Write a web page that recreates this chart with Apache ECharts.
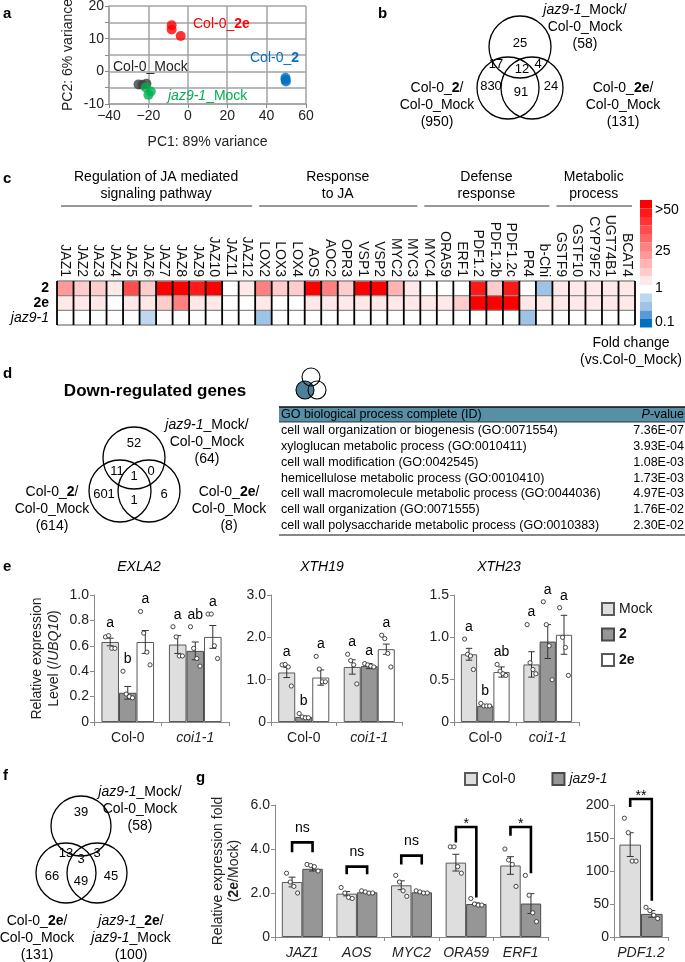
<!DOCTYPE html>
<html><head><meta charset="utf-8">
<script src="https://cdn.jsdelivr.net/npm/echarts@6/dist/echarts.min.js"></script>
<style>html,body{margin:0;padding:0;background:#fff}#c{width:685px;height:962px}</style>
</head><body><div id="c"></div><script>
const FONT = '"Liberation Sans", Arial, sans-serif';

// ---------- panel a : PCA ----------
const pcaMock = [[-25,-4.0],[-23,-4.1],[-21,-3.8]];
const pcaJaz = [[-21.3,-4.9],[-18.8,-6.2],[-20.0,-7.2]];
const pcaTwo = [[49.6,-2.0],[49.6,-2.6],[49.8,-3.1]];
const pcaTwoE = [[-8.2,14.1],[-8.2,12.8],[-3.6,10.8]];

// ---------- panel b : Venn (up-regulated) ----------
const vennBCounts = [25,17,12,4,830,91,24];
const vennBSets = ['{i|jaz9-1}_Mock/\nCol-0_Mock\n(58)','Col-0_{b|2}/\nCol-0_Mock\n(950)','Col-0_{b|2e}/\nCol-0_Mock\n(131)'];

// ---------- panel c : heatmap ----------
const heatGenes = ['JAZ1','JAZ2','JAZ3','JAZ4','JAZ5','JAZ6','JAZ7','JAZ8','JAZ9','JAZ10','JAZ11','JAZ12','LOX2','LOX3','LOX4','AOS','AOC2','OPR3','VSP1','VSP2','MYC2','MYC3','MYC4','ORA59','ERF1','PDF1.2','PDF1.2b','PDF1.2c','PR4','b-Chi','GSTF9','GSTF10','CYP79F2','UGT74B1','BCAT4'];
const heatRows = ['2','2e','jaz9-1'];
const fcTwo  = [17,7,6,2,32,6,55,55,44,55,1,2,22,6,8,55,20,7,55,55,14,2,1,1,1,42,6,44,1,0.55,4,4,2,2,2];
const fcTwoE = [3,2,2,1,2,2,6,22,3,2,1,1,2,1,1,2,2,2,2,2,3,2,2,4,8,55,55,55,2,2,2,2,2,2,2];
const fcJaz  = [1,1,1,1,1,0.8,1,1,1,1,1,1,0.6,1,1,1,1,1,1,1,1,1,1,1,1,1,1,1,0.5,1,1,1,1,1,1];
const heatGroupNames = ['Regulation of JA mediated\nsignaling pathway','Response\nto JA','Defense\nresponse','Metabolic\nprocess'];
const heatGroupSizes = [12,10,8,5];
const heatLegendLabels = ['>50','25','1','0.1'];

// ---------- panel d ----------
const vennDCounts = [52,11,1,0,601,1,6];
const vennDSets = ['{i|jaz9-1}_Mock/\nCol-0_Mock\n(64)','Col-0_{b|2}/\nCol-0_Mock\n(614)','Col-0_{b|2e}/\nCol-0_Mock\n(8)'];
const goTerms = ['cell wall organization or biogenesis (GO:0071554)','xyloglucan metabolic process (GO:0010411)','cell wall modification (GO:0042545)','hemicellulose metabolic process (GO:0010410)','cell wall macromolecule metabolic process (GO:0044036)','cell wall organization (GO:0071555)','cell wall polysaccharide metabolic process (GO:0010383)'];
const goPvals = ['7.36E-07','3.93E-04','1.08E-03','1.73E-03','4.97E-03','1.76E-02','2.30E-02'];

// ---------- panel e ----------
const eCats = ['Col-0','coi1-1'];
const eTreat = ['Mock','2','2e'];
const eGeneNames = ['EXLA2','XTH19','XTH23'];
const exla2Mean = [[0.63,0.61],[0.23,0.56],[0.63,0.67]];
const exla2Err  = [[0.03,0.07],[0.05,0.07],[0.09,0.09]];
const exla2Dots = [[[0.67,0.68,0.58,0.58],[0.75,0.67,0.52,0.52]],[[0.40,0.22,0.20,0.19],[0.75,0.58,0.50,0.44]],[[0.87,0.70,0.55,0.45],[0.85,0.85,0.60,0.50]]];
const exla2Letters = [['a','a'],['b','ab'],['a','a']];
const xth19Mean = [[1.17,1.30],[0.12,1.32],[1.05,1.72]];
const xth19Err  = [[0.12,0.17],[0.02,0.06],[0.18,0.12]];
const xth19Dots = [[[1.35,1.36,1.30,0.85],[1.60,1.45,1.35,0.90]],[[0.20,0.12,0.10,0.10],[1.38,1.35,1.32,1.30]],[[1.55,1.25,0.95,0.95],[2.05,1.97,1.62,1.30]]];
const xth19Letters = [['a','a'],['b','a'],['a','a']];
const xth23Mean = [[0.80,0.68],[0.19,0.95],[0.59,1.03]];
const xth23Err  = [[0.07,0.15],[0.01,0.20],[0.06,0.23]];
const xth23Dots = [[[0.98,0.80,0.78,0.62],[1.15,0.70,0.62,0.57]],[[0.22,0.19,0.19,0.19],[1.42,1.15,0.90,0.50]],[[0.68,0.60,0.57,0.55],[1.35,1.00,0.88,0.55]]];
const xth23Letters = [['a','a'],['b','a'],['ab','a']];

// ---------- panel f ----------
const vennFCounts = [39,13,3,3,66,49,45];
const vennFSets = ['{i|jaz9-1}_Mock/\nCol-0_Mock\n(58)','Col-0_{b|2e}/\nCol-0_Mock\n(131)','{i|jaz9-1}_{b|2e}/\n{i|jaz9-1}_Mock\n(100)'];

// ---------- panel g ----------
const gGenes = ['JAZ1','AOS','MYC2','ORA59','ERF1'];
const gColMean = [2.50,1.97,2.35,3.38,3.25];
const gColErr  = [0.22,0.10,0.20,0.38,0.40];
const gJazMean = [3.10,2.03,2.03,1.50,1.52];
const gJazErr  = [0.10,0.03,0.04,0.05,0.45];
const gColDots = [[2.9,2.5,2.3,2.0],[2.25,2.0,1.8,1.75],[2.8,2.5,2.1,1.85],[4.1,4.1,3.2,2.9],[4.0,3.5,3.3,2.3]];
const gJazDots = [[3.3,3.25,3.2,3.0],[2.1,2.05,2.0,2.0],[2.1,2.05,2.0,2.0],[1.75,1.5,1.45,1.45],[2.8,1.9,1.1,0.7]];
const gSig = ['ns','ns','ns','*','*'];
const gBracketTop = [4.3,3.2,3.7,5.0,5.0];
const gBracketLeft = [3.85,2.85,3.3,4.3,4.6];
const gBracketRight = [3.85,2.85,3.3,1.8,2.9];
const pdfGene = ['PDF1.2'];
const pdfColMean = [140], pdfColErr = [18], pdfJazMean = [35], pdfJazErr = [5];
const pdfColDots = [[180,158,115,115]], pdfJazDots = [[45,40,33,28]];
const pdfSig = ['**'], pdfBracketTop = [209], pdfBracketLeft = [197], pdfBracketRight = [55];

// ================= build =================
const chart = echarts.init(document.getElementById('c'), null, {renderer:'canvas', width:685, height:962});
const grids = [], xAxes = [], yAxes = [], series = [], G = [];

function rich(size, color, lh) {
  const base = {fontSize:size, fontFamily:FONT, fill:color||'#000'};
  if (lh) base.lineHeight = lh;
  return {
    b: Object.assign({}, base, {fontWeight:'bold'}),
    i: Object.assign({}, base, {fontStyle:'italic'}),
    n: Object.assign({}, base)
  };
}
function T(x, y, text, o) {
  o = o || {};
  const size = o.size || 14;
  const st = {text:String(text), fill:o.color||'#000', fontSize:size, fontFamily:FONT,
    fontWeight:o.bold?'bold':'normal', fontStyle:o.italic?'italic':'normal',
    align:o.align||'center', verticalAlign:o.va||'middle'};
  if (o.lh) st.lineHeight = o.lh;
  st.rich = rich(size, o.color||'#000', o.lh);
  return {type:'text', x:x, y:y, rotation:o.rot||0, style:st, z:50, silent:true};
}
function C(cx, cy, r, fill, lw) {
  return {type:'circle', shape:{cx:cx, cy:cy, r:r}, style:{fill:fill||'none', stroke:'#000', lineWidth:lw||1.3}, z:40, silent:true};
}
function L(x1, y1, x2, y2, w, c) {
  return {type:'line', shape:{x1:x1,y1:y1,x2:x2,y2:y2}, style:{stroke:c||'#000', lineWidth:w||1}, z:40, silent:true};
}
function venn(top, left, right, r, counts, countPos, sets, setPos) {
  G.push(C(top[0],top[1],r), C(left[0],left[1],r), C(right[0],right[1],r));
  counts.forEach((c,i) => G.push(T(countPos[i][0], countPos[i][1], c, {size:13})));
  sets.forEach((s,i) => G.push(T(setPos[i][0], setPos[i][1], s, {size:14, lh:17})));
}
const axCol = '#8a8a8a';
function valAxis(gi, min, max, interval, fmt, extra) {
  return Object.assign({type:'value', gridIndex:gi, min:min, max:max, interval:interval,
    axisLine:{show:true, onZero:false, lineStyle:{color:axCol, width:1}},
    axisTick:{show:true, length:4, lineStyle:{color:axCol}},
    splitLine:{show:false},
    axisLabel:{fontSize:14, color:'#222', fontFamily:FONT, margin:5, formatter:fmt}}, extra||{});
}
function catAxis(gi, data, fmt, extra) {
  return Object.assign({type:'category', gridIndex:gi, data:data,
    axisLine:{show:true, onZero:false, lineStyle:{color:axCol, width:1}},
    axisTick:{show:true, length:4, alignWithLabel:false, lineStyle:{color:axCol}},
    splitLine:{show:false},
    axisLabel:{fontSize:14, color:'#222', fontFamily:FONT, margin:9, interval:0, formatter:fmt,
      rich:{i:{fontStyle:'italic', fontSize:14, fontFamily:FONT, color:'#222'}}}}, extra||{});
}
function barExtras(nBars, gap, letters) {
  return function(params, api) {
    const cat = api.value(0), bi = api.value(1), mean = api.value(2), err = api.value(3);
    const W = api.size([1,0])[0];
    const base = api.coord([cat, 0]);
    const bw = W*(1-gap)/nBars;
    const cx = base[0] - W*(1-gap)/2 + (bi+0.5)*bw;
    const yHi = api.coord([cat, mean+err])[1], yLo = api.coord([cat, mean-err])[1];
    const ch = [];
    const cap = Math.min(3.5, bw*0.2);
    ch.push({type:'line', shape:{x1:cx,y1:yHi,x2:cx,y2:yLo}, style:{stroke:'#333', lineWidth:1}});
    ch.push({type:'line', shape:{x1:cx-cap,y1:yHi,x2:cx+cap,y2:yHi}, style:{stroke:'#333', lineWidth:1}});
    ch.push({type:'line', shape:{x1:cx-cap,y1:yLo,x2:cx+cap,y2:yLo}, style:{stroke:'#333', lineWidth:1}});
    let top = yHi;
    const jit = [-0.27,-0.09,0.09,0.27];
    for (let k = 0; k < 4; k++) {
      const v = api.value(4+k);
      if (v === undefined || isNaN(v)) continue;
      const p = api.coord([cat, v]);
      ch.push({type:'circle', shape:{cx:cx+jit[k]*bw, cy:p[1], r:2.1}, style:{fill:'#fff', stroke:'#333', lineWidth:0.9}});
      top = Math.min(top, p[1]-2);
    }
    const lt = letters ? letters[params.dataIndex] : null;
    if (lt) ch.push({type:'text', x:cx, y:top-3, style:{text:lt, fontSize:14, fontFamily:FONT, fill:'#000', align:'center', verticalAlign:'bottom'}});
    return {type:'group', children:ch};
  };
}
function bracketRender(nBars, gap, labels) {
  return function(params, api) {
    const cat = api.value(0), top = api.value(1), l = api.value(2), r = api.value(3);
    const W = api.size([1,0])[0];
    const base = api.coord([cat, 0]);
    const bw = W*(1-gap)/nBars;
    const xL = base[0] - W*(1-gap)/2 + 0.5*bw, xR = xL + bw;
    const yT = api.coord([cat, top])[1], yL = api.coord([cat, l])[1], yR = api.coord([cat, r])[1];
    const lab = labels[params.dataIndex];
    const off = lab.charAt(0) === '*' ? 4 : -7;
    return {type:'group', children:[
      {type:'polyline', shape:{points:[[xL,yL],[xL,yT],[xR,yT],[xR,yR]]}, style:{stroke:'#000', lineWidth:2.6, fill:'none'}},
      {type:'text', x:(xL+xR)/2, y:yT+off, style:{text:lab, fontSize:14, fontFamily:FONT, fill:'#000', align:'center', verticalAlign:'bottom'}}
    ]};
  };
}
const mono = (v) => v === 0 ? '0' : v.toFixed(1);

// ---------- panel letters ----------
[['a',3,14],['b',378,14],['c',3,179],['d',3,374],['e',3,567],['f',3,776],['g',196,778]].forEach(p =>
  G.push(T(p[1], p[2], p[0], {size:15, bold:true, align:'left'})));

// ---------- a ----------
grids.push({left:109, top:6, width:197, height:98, outerBoundsMode:'none'});
xAxes.push(valAxis(0, -40, 60, 20, v => v < 0 ? '\u2212' + (-v) : String(v), {
  axisLine:{show:true, onZero:false, lineStyle:{color:'#a3a3a3', width:1.5}},
  splitLine:{show:true, lineStyle:{color:'#a3a3a3', width:1.5}},
  name:'PC1: 89% variance', nameLocation:'middle', nameGap:31,
  nameTextStyle:{fontSize:14, color:'#222', fontFamily:FONT}}));
yAxes.push(valAxis(0, -10, 20, 5, v => v % 10 === 0 ? (v < 0 ? '-' + (-v) : String(v)) : '', {
  axisLine:{show:true, onZero:false, lineStyle:{color:'#a3a3a3', width:1.5}},
  splitLine:{show:true, lineStyle:{color:'#a3a3a3', width:1.5}},
  name:'PC2: 6% variance', nameLocation:'middle', nameRotate:90, nameGap:34,
  nameTextStyle:{fontSize:14, color:'#222', fontFamily:FONT}}));
[[pcaMock,'#404040'],[pcaJaz,'#00b050'],[pcaTwo,'#0070c0'],[pcaTwoE,'#ff0000']].forEach(s =>
  series.push({type:'scatter', xAxisIndex:0, yAxisIndex:0, data:s[0], symbolSize:10, itemStyle:{color:s[1]}, z:5}));
G.push(T(193, 24, 'Col-0_{b|2e}', {color:'#ff0000', align:'left'}));
G.push(T(250, 58, 'Col-0_{b|2}', {color:'#0070c0', align:'left'}));
G.push(T(113, 67, 'Col-0_Mock', {color:'#222', align:'left'}));
G.push(T(168, 96, '{i|jaz9-1}_Mock', {color:'#00b050', align:'left'}));

// ---------- b ----------
venn([520,47],[508,88],[532,88],31, vennBCounts,
  [[520,43],[496,64],[522,69],[538,64],[491,86],[521,92],[551,86]],
  vennBSets, [[585,27],[437,105],[623,105]]);

// ---------- c heatmap ----------
const HG = grids.length;
const HL = 57, HT = 281, HW = 578, HH = 44;
grids.push({left:HL, top:HT, width:HW, height:HH, outerBoundsMode:'none'});
xAxes.push({type:'category', gridIndex:HG, data:heatGenes, position:'top',
  axisLine:{show:false}, axisTick:{show:false}, splitLine:{show:false},
  axisLabel:{rotate:90, fontSize:14, margin:4, interval:0, color:'#111', fontFamily:FONT}});
yAxes.push({type:'category', gridIndex:HG, data:heatRows, inverse:true,
  axisLine:{show:false}, axisTick:{show:false}, splitLine:{show:false},
  axisLabel:{margin:8, fontSize:14, interval:0, fontFamily:FONT, color:'#000',
    formatter: v => v === 'jaz9-1' ? '{i|' + v + '}' : '{b|' + v + '}',
    rich:{i:{fontStyle:'italic', fontSize:14, fontFamily:FONT, color:'#000'}, b:{fontWeight:'bold', fontSize:14, fontFamily:FONT, color:'#000'}}}});
const heatData = [];
[fcTwo, fcTwoE, fcJaz].forEach((row, r) => row.forEach((v, g) => heatData.push([g, r, v])));
const heatSeriesIndex = series.length;
series.push({type:'heatmap', xAxisIndex:HG, yAxisIndex:HG, data:heatData,
  itemStyle:{borderWidth:0}, emphasis:{disabled:true}});
{
  const cw = HW / heatGenes.length, rh = HH / heatRows.length;
  for (let r = 0; r <= heatRows.length; r++) G.push(L(HL, HT + r*rh, HL + HW, HT + r*rh, 1.3, '#8c8c8c'));
  for (let c = 0; c <= heatGenes.length; c++) G.push(L(HL + c*cw, HT, HL + c*cw, HT + HH, 1.8, '#000'));
  let start = 0;
  heatGroupSizes.forEach((n, i) => {
    const x1 = HL + start*cw, x2 = HL + (start+n)*cw;
    G.push(L(x1+4, 206, x2-3, 206, 1, '#333'));
    G.push(T((x1+x2)/2, 186, heatGroupNames[i], {lh:17}));
    start += n;
  });
}
const heatPieces = [
  {gte:50, color:'#ff0000'}, {gte:40, lt:50, color:'#ff1a1a'}, {gte:35, lt:40, color:'#ff3333'},
  {gte:30, lt:35, color:'#ff4d4d'}, {gte:25, lt:30, color:'#ff6666'}, {gte:20, lt:25, color:'#ff8080'},
  {gte:15, lt:20, color:'#ff9999'}, {gte:10, lt:15, color:'#ffb3b3'}, {gte:5, lt:10, color:'#ffcccc'},
  {gte:1.1, lt:5, color:'#ffe8e8'}, {gte:0.9, lt:1.1, color:'#ffffff'}, {gte:0.7, lt:0.9, color:'#bdd7ee'},
  {gte:0.5, lt:0.7, color:'#9dc3e6'}, {gte:0.3, lt:0.5, color:'#5b9bd5'}, {lt:0.3, color:'#0070c0'}];
[[210,0],[251,1],[288,2],[322,3]].forEach(p => G.push(T(655, p[0], heatLegendLabels[p[1]], {align:'left'})));
G.push(T(631, 343, 'Fold change', {}));
G.push(T(631, 360, '(vs.Col-0_Mock)', {}));

// ---------- d ----------
G.push(T(155, 391, 'Down-regulated genes', {size:17, bold:true}));
G.push(C(305, 390, 9, '#4c8299', 1.1));
G.push(C(311, 377, 9, 'none', 1.1));
G.push(C(317, 390, 9, 'none', 1.1));
venn([134,458],[120,491],[149,491],31, vennDCounts,
  [[134,443],[117,471],[134,476],[151,471],[104,494],[134,500],[164,494]],
  vennDSets, [[207,442],[52,509],[229,509]]);
G.push({type:'rect', shape:{x:279, y:407, width:406, height:15}, style:{fill:'#568fa6'}, z:30, silent:true});
G.push(L(279, 407, 685, 407, 1.6, '#111'));
G.push(L(279, 422, 685, 422, 0.8, '#111'));
G.push(T(281, 415, 'GO biological process complete (ID)', {size:12.5, align:'left'}));
G.push(T(684, 415, '{i|P}-value', {size:12.5, align:'right'}));
goTerms.forEach((t, i) => {
  G.push(T(281, 431 + i*15.7, t, {size:12.5, align:'left'}));
  G.push(T(684, 431 + i*15.7, goPvals[i], {size:12.5, align:'right'}));
});
G.push(L(279, 535, 685, 535, 1, '#111'));

// ---------- e ----------
const eSets = [
  {mean:exla2Mean, err:exla2Err, dots:exla2Dots, let:exla2Letters, left:94, width:135, max:1.0, int:0.2},
  {mean:xth19Mean, err:xth19Err, dots:xth19Dots, let:xth19Letters, left:271, width:131, max:3.0, int:1.0},
  {mean:xth23Mean, err:xth23Err, dots:xth23Dots, let:xth23Letters, left:454, width:125, max:1.5, int:0.5}];
const eColors = [['#dedede','#5a5a5a'],['#969696','#4a4a4a'],['#ffffff','#5a5a5a']];
const eGap = 0.22;
const eTitleX = [139, 322, 499];
eSets.forEach((s, k) => {
  const gi = grids.length;
  grids.push({left:s.left, top:595, width:s.width, height:127, outerBoundsMode:'none'});
  xAxes.push(catAxis(gi, eCats, v => v === 'coi1-1' ? '{i|coi1-1}' : v));
  const extra = k === 0 ? {name:'{n|Relative expression}\n{n|Level (/}{i|UBQ10}{n|)}', nameLocation:'middle', nameRotate:90, nameGap:31,
      nameTextStyle:{fontSize:14, fontFamily:FONT, color:'#222', lineHeight:17,
        rich:{n:{fontSize:14, fontFamily:FONT, color:'#222', lineHeight:17}, i:{fontSize:14, fontFamily:FONT, color:'#222', fontStyle:'italic', lineHeight:17}}}} : {};
  yAxes.push(valAxis(gi, 0, s.max, s.int, mono, extra));
  eTreat.forEach((t, ti) => series.push({type:'bar', name:t, xAxisIndex:gi, yAxisIndex:gi, data:s.mean[ti],
    barGap:'0%', barCategoryGap:(eGap*100)+'%', itemStyle:{color:eColors[ti][0], borderColor:eColors[ti][1], borderWidth:1}, z:2}));
  const cd = [], lets = [];
  eTreat.forEach((t, ti) => eCats.forEach((c, ci) => {
    cd.push([ci, ti, s.mean[ti][ci], s.err[ti][ci]].concat(s.dots[ti][ci]));
    lets.push(s.let[ti][ci]);
  }));
  series.push({type:'custom', xAxisIndex:gi, yAxisIndex:gi, data:cd, renderItem:barExtras(3, eGap, lets), encode:{x:0, y:2}, clip:false, z:4});
  G.push(T(eTitleX[k], 567, eGeneNames[k], {italic:true}));
});

// ---------- f ----------
venn([81,826],[66,873],[97,873],30, vennFCounts,
  [[81,812],[66,853],[81,859],[97,853],[52,876],[81,881],[111,876]],
  vennFSets, [[140,809],[37,938],[131,938]]);

// ---------- g ----------
const gColors = [['#dedede','#5a5a5a'],['#969696','#4a4a4a']];
const gGi = grids.length;
grids.push({left:275, top:805, width:273, height:132, outerBoundsMode:'none'});
xAxes.push(catAxis(gGi, gGenes, v => '{i|' + v + '}'));
yAxes.push(valAxis(gGi, 0, 6, 2, mono, {name:'{n|Relative expression fold}\n{n|(}{b|2e}{n|/Mock)}', nameLocation:'middle', nameRotate:90, nameGap:33,
  nameTextStyle:{fontSize:14, fontFamily:FONT, color:'#222', lineHeight:16,
    rich:{n:{fontSize:14, fontFamily:FONT, color:'#222', lineHeight:16}, b:{fontSize:14, fontFamily:FONT, color:'#222', fontWeight:'bold', lineHeight:16}}}}));
const gGap = 0.25;
[['Col-0', gColMean], ['jaz9-1', gJazMean]].forEach((s, i) => series.push({type:'bar', name:s[0], xAxisIndex:gGi, yAxisIndex:gGi, data:s[1],
  barGap:'0%', barCategoryGap:(gGap*100)+'%', itemStyle:{color:gColors[i][0], borderColor:gColors[i][1], borderWidth:1}, z:2}));
{
  const cd = [];
  gGenes.forEach((g, ci) => cd.push([ci, 0, gColMean[ci], gColErr[ci]].concat(gColDots[ci])));
  gGenes.forEach((g, ci) => cd.push([ci, 1, gJazMean[ci], gJazErr[ci]].concat(gJazDots[ci])));
  series.push({type:'custom', xAxisIndex:gGi, yAxisIndex:gGi, data:cd, renderItem:barExtras(2, gGap, null), encode:{x:0, y:2}, clip:false, z:4});
  const bd = gGenes.map((g, ci) => [ci, gBracketTop[ci], gBracketLeft[ci], gBracketRight[ci]]);
  series.push({type:'custom', xAxisIndex:gGi, yAxisIndex:gGi, data:bd, renderItem:bracketRender(2, gGap, gSig), encode:{x:0, y:1}, clip:false, z:5});
}
const pGi = grids.length;
grids.push({left:614, top:805, width:54, height:132, outerBoundsMode:'none'});
xAxes.push(catAxis(pGi, pdfGene, v => '{i|' + v + '}'));
yAxes.push(valAxis(pGi, 0, 200, 50, v => String(v)));
const pGap = 0.2;
[['Col-0', pdfColMean], ['jaz9-1', pdfJazMean]].forEach((s, i) => series.push({type:'bar', name:s[0], xAxisIndex:pGi, yAxisIndex:pGi, data:s[1],
  barGap:'0%', barCategoryGap:(pGap*100)+'%', itemStyle:{color:gColors[i][0], borderColor:gColors[i][1], borderWidth:1}, z:2}));
{
  const cd = [[0, 0, pdfColMean[0], pdfColErr[0]].concat(pdfColDots[0]), [0, 1, pdfJazMean[0], pdfJazErr[0]].concat(pdfJazDots[0])];
  series.push({type:'custom', xAxisIndex:pGi, yAxisIndex:pGi, data:cd, renderItem:barExtras(2, pGap, null), encode:{x:0, y:2}, clip:false, z:4});
  series.push({type:'custom', xAxisIndex:pGi, yAxisIndex:pGi, data:[[0, pdfBracketTop[0], pdfBracketLeft[0], pdfBracketRight[0]]], renderItem:bracketRender(2, pGap, pdfSig), encode:{x:0, y:1}, clip:false, z:5});
}

const option = {
  animation:false, backgroundColor:'#fff', textStyle:{fontFamily:FONT},
  grid:grids, xAxis:xAxes, yAxis:yAxes, series:series,
  visualMap:[{type:'piecewise', seriesIndex:heatSeriesIndex, pieces:heatPieces, orient:'vertical', left:640, top:200,
    itemWidth:12, itemHeight:8.5, itemGap:0, showLabel:false, selectedMode:false, itemSymbol:'rect', padding:0,
    textStyle:{fontSize:1}}],
  legend:[
    {data:['Mock','2','2e'], orient:'vertical', left:596, top:597, itemWidth:12, itemHeight:12, itemGap:11.5, icon:'rect', selectedMode:false,
      formatter: n => n === 'Mock' ? n : '{b|' + n + '}',
      textStyle:{fontSize:14, fontFamily:FONT, color:'#111', rich:{b:{fontWeight:'bold', fontStyle:'normal', fontSize:14, fontFamily:FONT, color:'#111'}}}},
    {data:['Col-0','jaz9-1'], orient:'horizontal', left:459, top:767, itemWidth:12, itemHeight:12, itemGap:36, icon:'rect', selectedMode:false,
      formatter: n => n === 'jaz9-1' ? '{i|' + n + '}' : n,
      textStyle:{fontSize:14, fontFamily:FONT, color:'#111', rich:{i:{fontStyle:'italic', fontSize:14, fontFamily:FONT, color:'#111'}}}}],
  graphic:{elements:G}
};
chart.setOption(option);
</script></body></html>
